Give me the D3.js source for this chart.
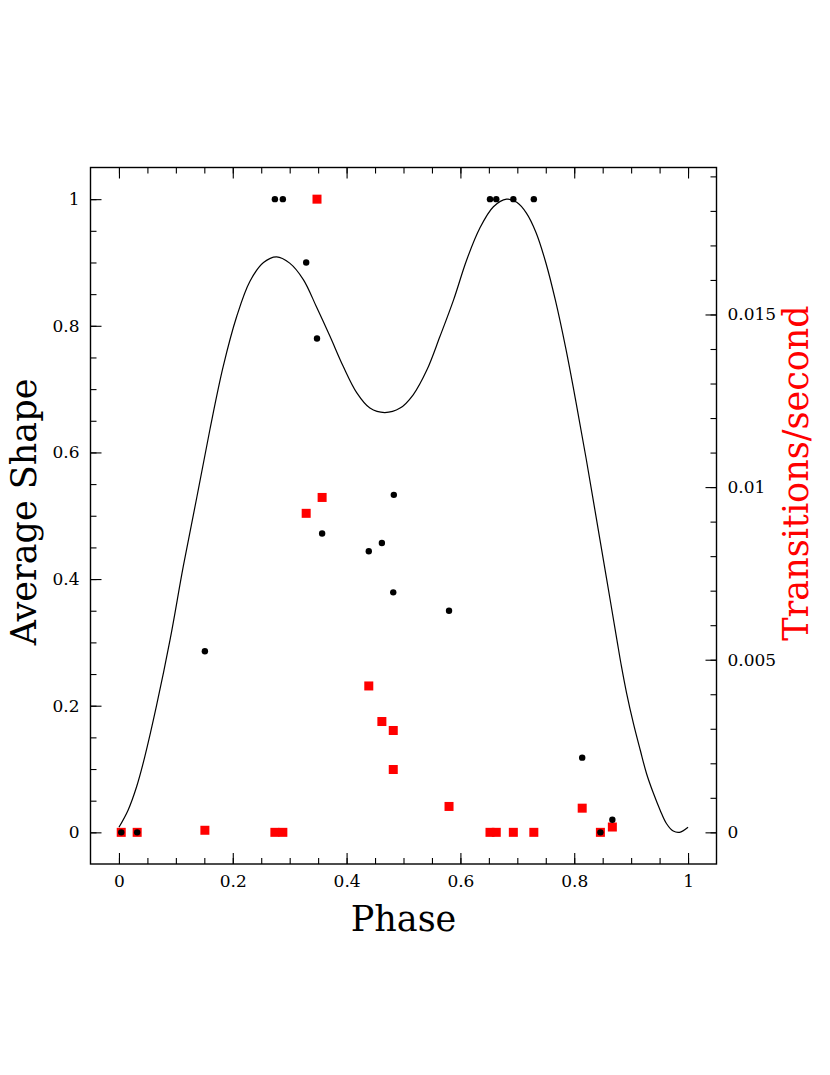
<!DOCTYPE html>
<html>
<head>
<meta charset="utf-8">
<script src="https://cdnjs.cloudflare.com/ajax/libs/d3/7.8.5/d3.min.js"></script>
<style>
  body { margin: 0; background: #fff; }
  svg { display: block; }
</style>
</head>
<body>
<svg class="svg-phase" width="830" height="1075"></svg>
<script>
// measured points (black dots = average shape, red squares = transitions/second)
const PHASES = [0.004, 0.032, 0.151, 0.274, 0.288, 0.329, 0.348, 0.357, 0.439, 0.462,
  0.483, 0.482, 0.580, 0.652, 0.663, 0.693, 0.729, 0.814, 0.846, 0.867];
const SHAPES = [0, 0, 0.286, 1, 1, 0.90, 0.78, 0.472, 0.444, 0.457,
  0.533, 0.379, 0.350, 1, 1, 1, 1, 0.118, 0, 0.02];
const RATE_PHASES = [0.004, 0.032, 0.151, 0.274, 0.288, 0.329, 0.348, 0.357, 0.439, 0.462,
  0.482, 0.482, 0.580, 0.652, 0.663, 0.693, 0.729, 0.814, 0.846, 0.867];
const RATES = [0, 0, 0.00006, 0, 0, 0.00924, 0.01834, 0.0097, 0.00424, 0.00321,
  0.00295, 0.00182, 0.00075, 0, 0, 0, 0, 0.0007, 0, 0.000154];

// average light curve shape
const CURVE_PHASE = [0.000, 0.016, 0.031, 0.045, 0.066, 0.090, 0.113, 0.137, 0.160, 0.183,
  0.207, 0.230, 0.254, 0.277, 0.300, 0.324, 0.347, 0.371, 0.394, 0.418,
  0.441, 0.467, 0.494, 0.517, 0.541, 0.564, 0.588, 0.611, 0.634, 0.658,
  0.681, 0.699, 0.716, 0.733, 0.750, 0.767, 0.785, 0.803, 0.821, 0.839,
  0.857, 0.875, 0.883, 0.892, 0.904, 0.916, 0.927, 0.939, 0.951, 0.962,
  0.974, 0.985, 1.000];
const CURVE_SHAPE = [0.008, 0.035, 0.072, 0.118, 0.200, 0.305, 0.420, 0.530, 0.637, 0.735,
  0.815, 0.870, 0.900, 0.909, 0.899, 0.873, 0.830, 0.783, 0.736, 0.694,
  0.670, 0.663, 0.670, 0.691, 0.730, 0.783, 0.841, 0.904, 0.954, 0.988,
  1.000, 0.995, 0.978, 0.947, 0.900, 0.840, 0.765, 0.680, 0.590, 0.495,
  0.400, 0.304, 0.262, 0.220, 0.172, 0.130, 0.093, 0.062, 0.035, 0.014,
  0.002, 0.000, 0.008];

const PHASE_TICKS = [0, 0.2, 0.4, 0.6, 0.8, 1];
const SHAPE_TICKS = [0, 0.2, 0.4, 0.6, 0.8, 1];
const RATE_TICKS = [0, 0.005, 0.01, 0.015];

(function () {
  "use strict";

  let svg = d3.select('.svg-phase'),
    left = 90.5,
    right = 716.5,
    top = 167.5,
    bottom = 864,
    rateMax = 0.01834,
    font = '"DejaVu Serif", serif';

  let x = d3.scaleLinear().domain([-0.05, 1.05]).range([left, right]);
  let y = d3.scaleLinear().domain([-0.05, 1.05]).range([bottom, top]);
  let yRate = d3.scaleLinear().domain([-0.05 * rateMax, 1.05 * rateMax]).range([bottom, top]);

  /*
   * axes with inward ticks
   */
  function drawAxis(axis, tx, ty, values, size, labels) {
    let g = svg.append('g')
      .attr('transform', 'translate(' + tx + ',' + ty + ')')
      .call(axis.tickValues(values)
        .tickSizeInner(-size)
        .tickSizeOuter(0)
        .tickPadding(11)
        .tickFormat(labels ? d3.format('~g') : ''));
    g.select('.domain').remove();
    g.selectAll('line').attr('stroke', '#000').attr('stroke-width', 1.1);
    g.selectAll('text')
      .attr('font-family', font)
      .attr('font-size', 17)
      .attr('fill', '#000');
    return g;
  }

  let minorPhase = d3.range(0, 1.001, 0.05);
  let minorRate = d3.range(0, 0.0191, 0.001);

  drawAxis(d3.axisBottom(x), 0, bottom, minorPhase, 6, false);
  drawAxis(d3.axisBottom(x), 0, bottom, PHASE_TICKS, 11, true);
  drawAxis(d3.axisTop(x), 0, top, minorPhase, 6, false);
  drawAxis(d3.axisTop(x), 0, top, PHASE_TICKS, 11, false);
  drawAxis(d3.axisLeft(y), left, 0, minorPhase, 6, false);
  drawAxis(d3.axisLeft(y), left, 0, SHAPE_TICKS, 11, true);
  drawAxis(d3.axisRight(yRate), right, 0, minorRate, 6, false);
  drawAxis(d3.axisRight(yRate), right, 0, RATE_TICKS, 11, true);

  svg.append('rect')
    .attr('x', left)
    .attr('y', top)
    .attr('width', right - left)
    .attr('height', bottom - top)
    .attr('fill', 'none')
    .attr('stroke', '#000')
    .attr('stroke-width', 1.4);

  /*
   * curve
   */
  let line = d3.line()
    .x(function (d) { return x(d[0]); })
    .y(function (d) { return y(d[1]); })
    .curve(d3.curveCatmullRom.alpha(0.5));

  svg.append('path')
    .datum(d3.zip(CURVE_PHASE, CURVE_SHAPE))
    .attr('d', line)
    .attr('fill', 'none')
    .attr('stroke', '#000')
    .attr('stroke-width', 1.2);

  /*
   * red squares (right axis), then black dots on top
   */
  svg.selectAll('rect.rate')
    .data(d3.zip(RATE_PHASES, RATES))
    .enter()
    .append('rect')
    .attr('class', 'rate')
    .attr('x', function (d) { return x(d[0]) - 4.5; })
    .attr('y', function (d) { return yRate(d[1]) - 4.5; })
    .attr('width', 9)
    .attr('height', 9)
    .attr('fill', '#ff0000');

  svg.selectAll('circle')
    .data(d3.zip(PHASES, SHAPES))
    .enter()
    .append('circle')
    .attr('cx', function (d) { return x(d[0]); })
    .attr('cy', function (d) { return y(d[1]); })
    .attr('r', 3.2)
    .attr('fill', '#000');

  /*
   * axis titles
   */
  svg.append('text')
    .text('Phase')
    .attr('x', (left + right) / 2)
    .attr('y', 931)
    .attr('text-anchor', 'middle')
    .attr('font-family', font)
    .attr('font-size', 35)
    .attr('fill', '#000');

  svg.append('text')
    .text('Average Shape')
    .attr('transform', 'translate(36,512) rotate(-90)')
    .attr('text-anchor', 'middle')
    .attr('font-family', font)
    .attr('font-size', 35)
    .attr('fill', '#000');

  svg.append('text')
    .text('Transitions/second')
    .attr('transform', 'translate(808,473) rotate(-90)')
    .attr('text-anchor', 'middle')
    .attr('font-family', font)
    .attr('font-size', 35)
    .attr('fill', '#ff0000');
}());
</script>
</body>
</html>
